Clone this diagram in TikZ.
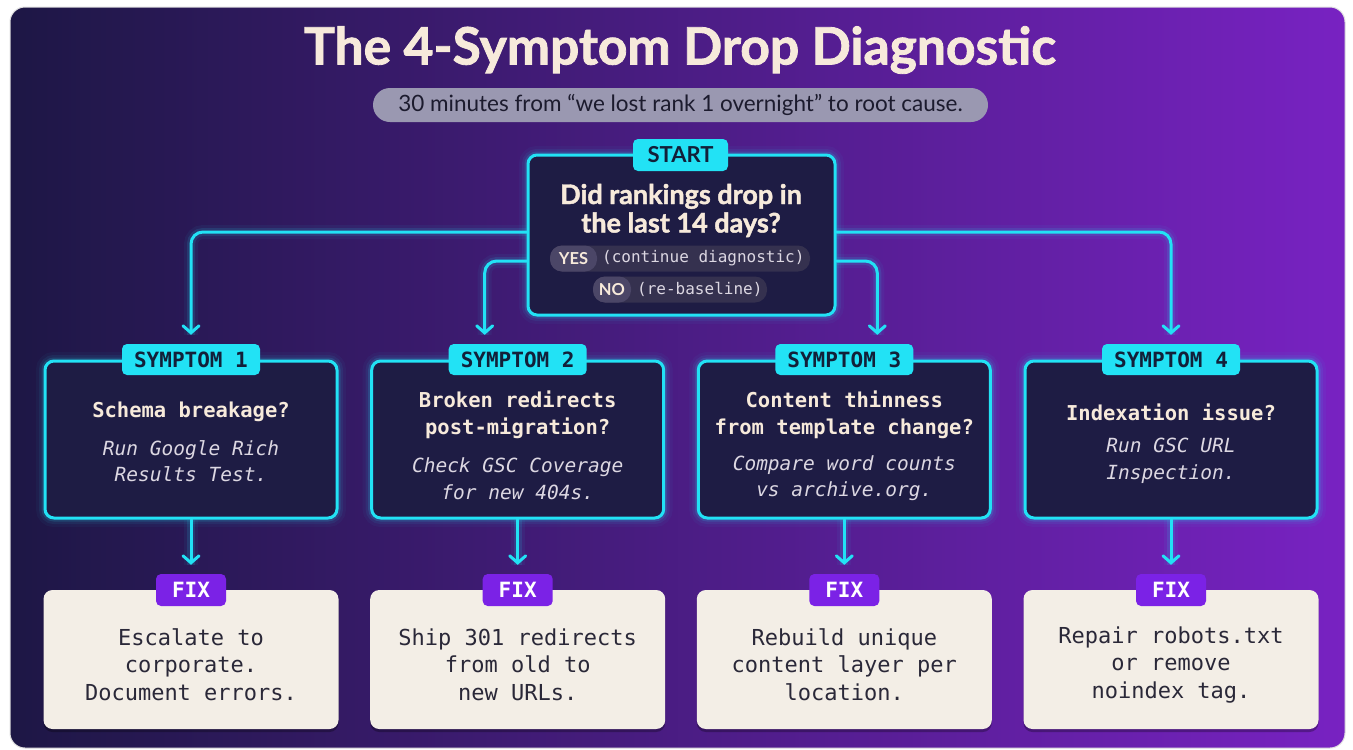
\documentclass[tikz,border=0pt]{standalone}
\usepackage{fontspec}
\setmainfont{Lato}
\setmonofont{DejaVu Sans Mono}
\newfontfamily\heavyfont{Lato}[BoldFeatures={FakeBold=1.6}]
\usetikzlibrary{arrows.meta,calc}
\definecolor{bgL}{HTML}{1D1745}
\definecolor{bgM}{HTML}{331D70}
\definecolor{bgR}{HTML}{7822C2}
\definecolor{cyanG}{HTML}{22E2F5}
\definecolor{boxnavy}{HTML}{1E1C44}
\definecolor{tagtext}{HTML}{122039}
\definecolor{cream}{HTML}{F7EADB}
\definecolor{hintc}{HTML}{DCD7E2}
\definecolor{fixbg}{HTML}{F3EEE6}
\definecolor{fixtext}{HTML}{2A2838}
\definecolor{fixpurple}{HTML}{7B22E6}
\definecolor{subpill}{HTML}{9A98B1}
\definecolor{subtext}{HTML}{1C1B2E}
\definecolor{pillbg}{HTML}{35314F}
\definecolor{pilllab}{HTML}{4B4667}
\tikzset{
  glow/.style={preaction={draw=cyanG, line width=18pt, opacity=0.04},
               preaction={draw=cyanG, line width=12pt, opacity=0.07},
               preaction={draw=cyanG, line width=7pt, opacity=0.14}},
  darkbox/.style={draw=cyanG, line width=3pt, fill=boxnavy, rounded corners=9pt, glow, inner sep=0pt},
  ctag/.style={fill=cyanG, rounded corners=5pt, text=tagtext, inner sep=0pt, minimum height=31pt},
  symfont/.style={font=\ttfamily\bfseries\fontsize{21pt}{25pt}\selectfont},
  qtext/.style={text=cream, align=center, inner sep=0pt, font=\ttfamily\bfseries\fontsize{20.5pt}{26.5pt}\selectfont},
  htext/.style={text=hintc, align=center, inner sep=0pt, font=\ttfamily\itshape\fontsize{19.5pt}{26.5pt}\selectfont},
  fixbox/.style={fill=fixbg, rounded corners=9pt, inner sep=0pt,
                 preaction={fill=black, opacity=0.28, transform canvas={yshift=-3pt}}},
  ftag/.style={fill=fixpurple, rounded corners=5pt, text=white, inner sep=0pt, minimum width=70pt, minimum height=32pt, font=\ttfamily\bfseries\fontsize{21pt}{25pt}\selectfont},
  fxtext/.style={text=fixtext, align=center, inner sep=0pt, font=\ttfamily\fontsize{22pt}{27.5pt}\selectfont},
  conn/.style={draw=cyanG, line width=3pt, line cap=round, rounded corners=12pt,
               -{Straight Barb[length=7pt,width=16pt,line cap=round]}, shorten >=9pt,
               preaction={draw=cyanG, line width=14pt, opacity=0.05, -},
               preaction={draw=cyanG, line width=8pt, opacity=0.12, -}},
  conndown/.style={draw=cyanG, line width=3pt, line cap=round,
               -{Straight Barb[length=7pt,width=16pt,line cap=round]}, shorten >=9pt,
               preaction={draw=cyanG, line width=14pt, opacity=0.05, -},
               preaction={draw=cyanG, line width=8pt, opacity=0.12, -}},
  pill/.style={fill=pillbg, rounded corners=12pt, inner sep=0pt},
  pilllabel/.style={fill=pilllab, rounded corners=12pt, inner sep=0pt, text=cream, font=\bfseries\fontsize{16.5pt}{19pt}\selectfont},
  pilltext/.style={text=hintc, inner sep=0pt, anchor=west, font=\ttfamily\fontsize{16pt}{19pt}\selectfont}
}
\begin{document}
\begin{tikzpicture}[x=1pt,y=-1pt]
\useasboundingbox (0,0) rectangle (1353,750);
\fill[white] (0,0) rectangle (1353,750);
\shade[rounded corners=15pt, left color=bgL, middle color=bgM, right color=bgR] (10,7) rectangle (1345,748);
\draw[black!12, line width=1pt, rounded corners=15pt] (10,7) rectangle (1345,748);

% title and subtitle
\node[text=cream, font=\heavyfont\bfseries\fontsize{51.5pt}{60pt}\selectfont] (title) at (680,50) {The 4-Symptom Drop Diagnostic};
\node[fill=subpill, rounded corners=17pt, minimum width=615pt, minimum height=34pt, inner sep=0pt, text=subtext,
      font=\fontsize{22.5pt}{26pt}\selectfont] (sub) at (680.5,105) {30 minutes from “we lost rank 1 overnight” to root cause.};

% start box
\node[darkbox, minimum width=307pt, minimum height=160pt] (start) at (681.5,235) {};
\node[ctag, minimum width=95pt, minimum height=32pt, font=\bfseries\fontsize{22pt}{24pt}\selectfont] (starttag) at (680.5,155) {START};
\node[text=cream, align=center, inner sep=0pt, font=\heavyfont\bfseries\fontsize{27pt}{28.5pt}\selectfont] (startq) at (681,210.5) {Did rankings drop in\\the last 14 days?};
\node[pill, minimum width=260pt, minimum height=26pt] (yespill) at (680,258.5) {};
\node[pilllabel, minimum width=47pt, minimum height=26pt] (yeslab) at (573.5,258.5) {YES};
\node[pilltext] (yestext) at (602,258.5) {(continue diagnostic)};
\node[pill, minimum width=174pt, minimum height=26pt] (nopill) at (680,289.5) {};
\node[pilllabel, minimum width=38pt, minimum height=26pt] (nolab) at (612,289.5) {NO};
\node[pilltext] (notext) at (637,289.5) {(re-baseline)};

% symptom boxes
\node[darkbox, minimum width=292pt, minimum height=157pt] (s1) at (191,439.5) {};
\node[darkbox, minimum width=292pt, minimum height=157pt] (s2) at (517.7,439.5) {};
\node[darkbox, minimum width=292pt, minimum height=157pt] (s3) at (844.3,439.5) {};
\node[darkbox, minimum width=292pt, minimum height=157pt] (s4) at (1171,439.5) {};
\node[ctag, symfont, minimum width=138pt] (t1) at (191,359.5) {SYMPTOM 1};
\node[ctag, symfont, minimum width=138pt] (t2) at (517.7,359.5) {SYMPTOM 2};
\node[ctag, symfont, minimum width=138pt] (t3) at (844.3,359.5) {SYMPTOM 3};
\node[ctag, symfont, minimum width=138pt] (t4) at (1171,359.5) {SYMPTOM 4};

\node[qtext] (q1) at (191,412) {Schema breakage?};
\node[htext] (h1) at (191,461) {Run Google Rich\\Results Test.};
\node[qtext] (q2) at (517.7,415) {Broken redirects\\post-migration?};
\node[htext] (h2) at (517.7,478.5) {Check GSC Coverage\\for new 404s.};
\node[qtext] (q3) at (844.3,415) {Content thinness\\from template change?};
\node[htext] (h3) at (844.3,478) {Compare word counts\\vs archive.org.};
\node[qtext] (q4) at (1171,412) {Indexation issue?};
\node[htext] (h4) at (1171,461) {Run GSC URL\\Inspection.};

% connectors from start
\draw[conn] (start.west |- 0,232) -| (t1.north);
\draw[conn] (start.west |- 0,261) -| ($(t2.north)+(-33,0)$);
\draw[conn] (start.east |- 0,261) -| ($(t3.north)+(33,0)$);
\draw[conn] (start.east |- 0,232) -| (t4.north);

% fix boxes
\node[fixbox, minimum width=295pt, minimum height=139pt] (f1) at (191,659.5) {};
\node[fixbox, minimum width=295pt, minimum height=139pt] (f2) at (517.7,659.5) {};
\node[fixbox, minimum width=295pt, minimum height=139pt] (f3) at (844.3,659.5) {};
\node[fixbox, minimum width=295pt, minimum height=139pt] (f4) at (1171,659.5) {};
\node[ftag] (ft1) at (191,590) {FIX};
\node[ftag] (ft2) at (517.7,590) {FIX};
\node[ftag] (ft3) at (844.3,590) {FIX};
\node[ftag] (ft4) at (1171,590) {FIX};
\node[fxtext] (x1) at (191,664.5) {Escalate to\\corporate.\\Document errors.};
\node[fxtext] (x2) at (517.7,664.5) {Ship 301 redirects\\from old to\\new URLs.};
\node[fxtext] (x3) at (844.3,664.5) {Rebuild unique\\content layer per\\location.};
\node[fxtext] (x4) at (1171,664.5) {Repair robots.txt\\or remove\\noindex tag.};

% symptom -> fix arrows
\draw[conndown] (s1) -- (ft1);
\draw[conndown] (s2) -- (ft2);
\draw[conndown] (s3) -- (ft3);
\draw[conndown] (s4) -- (ft4);
\end{tikzpicture}
\end{document}
